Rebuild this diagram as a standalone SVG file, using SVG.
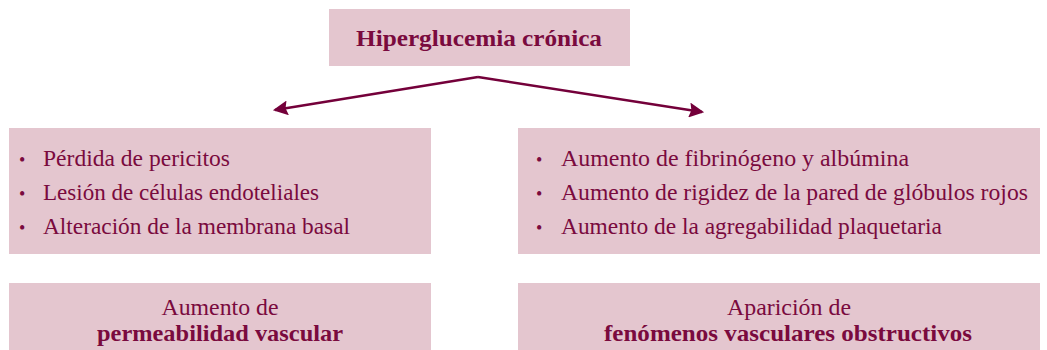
<svg xmlns="http://www.w3.org/2000/svg" width="1047" height="350" viewBox="0 0 1047 350">
<style>
.box{fill:#e4c6cf}
.t{font-family:"Liberation Serif",serif;fill:#7a0a3e;font-size:23px}
.bl{font-family:"Liberation Serif",serif;fill:#7a0a3e;font-size:18px}
.b{font-weight:bold}
.c{text-anchor:middle}
.conn{stroke:#74003a;stroke-width:2.5;fill:none}
</style>
<defs>
<marker id="arr" viewBox="0 0 14 14" refX="12" refY="7" markerWidth="15" markerHeight="15" markerUnits="userSpaceOnUse" orient="auto">
<path d="M0,0 L14,7 L0,14 L2,7 z" fill="#74003a"/>
</marker>
</defs>
<g id="top">
<rect class="box" x="329" y="9" width="301" height="57"/>
<text class="t b c" x="479" y="46" textLength="246" lengthAdjust="spacingAndGlyphs">Hiperglucemia crónica</text>
</g>
<g id="left-list">
<rect class="box" x="9" y="128" width="422" height="126"/>
<text class="bl" x="19" y="166">•</text>
<text class="t" x="43" y="166" textLength="187" lengthAdjust="spacingAndGlyphs">Pérdida de pericitos</text>
<text class="bl" x="19" y="200">•</text>
<text class="t" x="43" y="200" textLength="276" lengthAdjust="spacingAndGlyphs">Lesión de células endoteliales</text>
<text class="bl" x="19" y="234">•</text>
<text class="t" x="43" y="234" textLength="307" lengthAdjust="spacingAndGlyphs">Alteración de la membrana basal</text>
</g>
<g id="right-list">
<rect class="box" x="518" y="128" width="522" height="126"/>
<text class="bl" x="536" y="166">•</text>
<text class="t" x="561" y="166" textLength="348" lengthAdjust="spacingAndGlyphs">Aumento de fibrinógeno y albúmina</text>
<text class="bl" x="536" y="200">•</text>
<text class="t" x="561" y="200" textLength="467" lengthAdjust="spacingAndGlyphs">Aumento de rigidez de la pared de glóbulos rojos</text>
<text class="bl" x="536" y="234">•</text>
<text class="t" x="561" y="234" textLength="381" lengthAdjust="spacingAndGlyphs">Aumento de la agregabilidad plaquetaria</text>
</g>
<g id="left-result">
<rect class="box" x="9" y="283" width="422" height="67"/>
<text class="t c" x="220" y="315" textLength="117" lengthAdjust="spacingAndGlyphs">Aumento de</text>
<text class="t b c" x="220" y="341" textLength="246" lengthAdjust="spacingAndGlyphs">permeabilidad vascular</text>
</g>
<g id="right-result">
<rect class="box" x="518" y="283" width="522" height="67"/>
<text class="t c" x="789" y="315" textLength="124" lengthAdjust="spacingAndGlyphs">Aparición de</text>
<text class="t b c" x="788" y="341" textLength="368" lengthAdjust="spacingAndGlyphs">fenómenos vasculares obstructivos</text>
</g>
<g id="connectors">
<path class="conn" d="M478,77 L275,110" marker-end="url(#arr)"/>
<path class="conn" d="M478,77 L702,112" marker-end="url(#arr)"/>
</g>
</svg>
